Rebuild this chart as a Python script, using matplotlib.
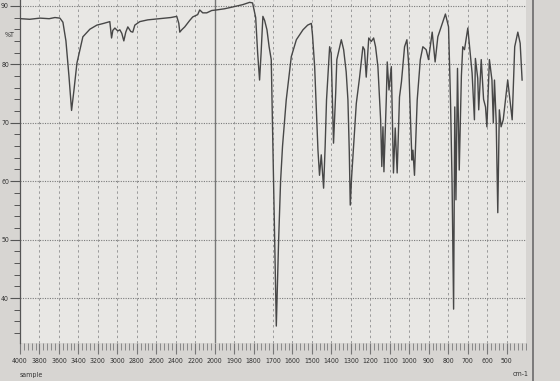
import numpy as np
import matplotlib
matplotlib.use("Agg")
import matplotlib.pyplot as plt
from matplotlib.lines import Line2D

# ---- data ----
wavenumber = [3990, 3900, 3795, 3700, 3641, 3590, 3559, 3528, 3497, 3470, 3446, 3415, 3354, 3282, 3210,
              3140, 3077, 3059, 3046, 3025, 2995, 2974, 2954, 2933, 2913, 2892, 2861, 2841, 2820, 2769,
              2687, 2564, 2450, 2389, 2368, 2358, 2338, 2307, 2256, 2225, 2174, 2153, 2122, 2081, 2030,
              1990, 1949, 1908, 1856, 1820, 1805, 1789, 1779, 1769, 1761, 1752, 1743, 1731, 1720, 1709,
              1697, 1683, 1671, 1661, 1651, 1632, 1606, 1580, 1546, 1522, 1503, 1497, 1486, 1469, 1461,
              1452, 1440, 1432, 1425, 1409, 1401, 1389, 1378, 1372, 1349, 1337, 1324, 1315, 1308, 1303,
              1296, 1284, 1272, 1255, 1238, 1230, 1221, 1208, 1195, 1183, 1173, 1161, 1147, 1141, 1135,
              1130, 1118, 1113, 1104, 1092, 1081, 1072, 1062, 1050, 1040, 1024, 1012, 1002, 993, 986,
              981, 973, 959, 943, 930, 913, 901, 882, 867, 853, 836, 814, 798, 788, 780,
              772, 766, 760, 752, 743, 732, 725, 716, 699, 677, 665, 660, 648, 643, 630,
              618, 608, 601, 588, 575, 568, 562, 553, 545, 537, 528, 517, 494, 471, 458,
              442, 430, 420]
transmittance = [87.8, 87.7, 87.9, 87.8, 88.0, 87.9, 87.2, 84.0, 78.0, 72.1, 75.5, 80.2, 84.7, 86.0, 86.7,
                 87.0, 87.3, 84.5, 85.8, 86.2, 85.7, 85.9, 85.3, 84.0, 85.5, 86.4, 85.6, 85.5, 86.7, 87.3,
                 87.6, 87.8, 88.0, 88.2, 87.0, 85.5, 85.9, 86.4, 87.5, 88.1, 88.5, 89.3, 88.8, 88.8, 89.2,
                 89.3, 89.5, 89.8, 90.2, 90.6, 90.5, 88.0, 82.0, 77.3, 82.0, 88.2, 87.5, 85.9, 83.0, 80.8,
                 60.0, 35.2, 50.0, 60.0, 66.0, 73.9, 81.3, 84.2, 85.9, 86.7, 87.0, 85.0, 79.6, 65.3, 61.0,
                 64.5, 58.8, 66.0, 73.9, 83.0, 81.9, 66.5, 75.0, 80.8, 84.2, 82.5, 78.7, 73.9, 65.0, 55.9,
                 60.7, 67.0, 73.3, 77.8, 83.0, 82.5, 77.8, 84.5, 83.9, 84.5, 83.0, 79.6, 70.5, 62.5, 69.3,
                 61.6, 73.9, 80.4, 75.6, 79.6, 61.4, 69.1, 61.4, 74.4, 77.0, 83.0, 84.2, 79.6, 70.0, 63.6,
                 65.3, 61.0, 73.9, 80.8, 83.0, 82.5, 80.8, 85.5, 80.4, 84.7, 86.4, 88.6, 86.4, 73.9, 60.0,
                 38.1, 72.7, 56.8, 79.3, 61.9, 78.0, 83.0, 82.5, 86.2, 78.5, 70.5, 81.0, 77.6, 72.2, 80.8,
                 74.0, 72.7, 69.3, 80.8, 77.3, 70.0, 77.3, 70.0, 54.6, 72.2, 69.3, 70.5, 77.3, 70.5, 83.0,
                 85.5, 83.6, 77.3]

x_major = [4000, 3800, 3600, 3400, 3200, 3000, 2800, 2600, 2400, 2200, 2000,
           1900, 1800, 1700, 1600, 1500, 1400, 1300, 1200, 1100, 1000, 900, 800, 700, 600, 500]
x_labels = [str(v) for v in x_major]
y_major = [90, 80, 70, 60, 50, 40]
y_labels = [str(v) for v in y_major]


def fwd(w):
    w = np.asarray(w, dtype=float)
    return np.where(w > 2000, 2000 + (w - 2000) / 2.0, w)


def inv(u):
    u = np.asarray(u, dtype=float)
    return np.where(u > 2000, 2000 + (u - 2000) * 2.0, u)


fig = plt.figure(figsize=(5.6, 3.81), dpi=100)
fig.patch.set_facecolor('#d7d5d2')
ax = fig.add_axes([20 / 560, 1 - 343 / 381, 506 / 560, 343 / 381])
ax.set_facecolor('#e8e7e4')
ax.set_xscale('function', functions=(fwd, inv))
ax.set_xlim(4000, 400)
ax.set_ylim(32.3, 91.0)

# grid
for v in x_major[1:]:
    if v == 2000:
        ax.axvline(v, color='#777777', lw=1.0, zorder=1)
    else:
        ax.axvline(v, color='#9a9a9a', lw=0.7, ls=(0, (2.5, 3)), zorder=1)
for v in y_major:
    ax.axhline(v, color='#7a7a7a', lw=0.8, ls=(0, (1, 1.2)), zorder=1)

ax.plot(wavenumber, transmittance, color='#474747', lw=1.0, zorder=3)

# ticks
minor_x = list(range(4000, 2000, -40)) + list(range(2000, 399, -20))
ax.set_xticks(x_major)
ax.set_xticklabels(x_labels)
ax.set_xticks(minor_x, minor=True)
ax.set_yticks(y_major)
ax.set_yticklabels(y_labels)
ax.set_yticks(list(np.arange(34, 91, 2)), minor=True)

for lab in ax.get_xticklabels() + ax.get_yticklabels():
    lab.set_fontfamily('DejaVu Sans')
    lab.set_fontstretch('condensed')
    lab.set_fontsize(5.0)
    lab.set_color('#333333')

ax.tick_params(axis='x', which='major', direction='out', length=8, width=0.8, color='#777777', pad=2.5)
ax.tick_params(axis='x', which='minor', direction='out', length=5, width=0.7, color='#888888')
ax.tick_params(axis='y', which='major', direction='out', length=7, width=0.8, color='#555555', pad=1)
ax.tick_params(axis='y', which='minor', direction='out', length=4, width=0.7, color='#555555')

for s in ['top', 'right', 'bottom']:
    ax.spines[s].set_visible(False)
ax.spines['left'].set_color('#555555')
ax.spines['left'].set_linewidth(0.9)

fig.text(10 / 560, 1 - 35 / 381, '%T', ha='center', va='center', fontsize=5.0, color='#333333',
         fontstretch='condensed')
fig.text(20 / 560, 1 - 375 / 381, 'sample', ha='left', va='center', fontsize=5.0, color='#333333',
         fontstretch='condensed')
fig.text(521 / 560, 1 - 374 / 381, 'cm-1', ha='center', va='center', fontsize=5.0, color='#333333',
         fontstretch='condensed')

# photo frame edge on the right
fig.add_artist(Line2D([533 / 560, 533 / 560], [0, 1], transform=fig.transFigure, color='#6a6a6a', lw=1.2))

fig.savefig('out.png', dpi=100, facecolor=fig.get_facecolor())
